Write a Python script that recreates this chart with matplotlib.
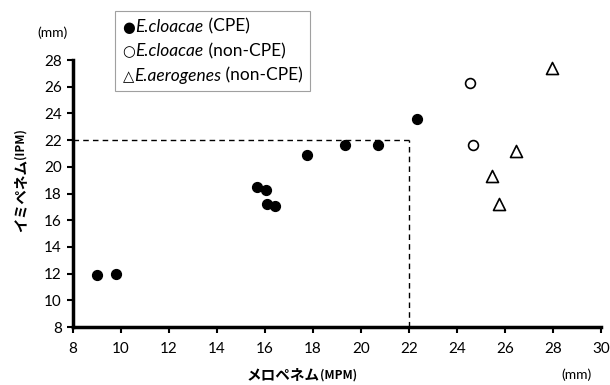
import matplotlib
matplotlib.use('Agg')
import matplotlib.pyplot as plt
from matplotlib.offsetbox import TextArea, HPacker, VPacker, AnchoredOffsetbox

plt.rcParams['font.family'] = ['Lato', 'DejaVu Sans']

# data (mm)
cpe_x = [9.0, 9.8, 15.65, 16.05, 16.1, 16.4, 17.75, 19.35, 20.7, 22.35]
cpe_y = [11.9, 12.0, 18.5, 18.3, 17.25, 17.05, 20.9, 21.65, 21.65, 23.6]
clo_x = [24.55, 24.65]
clo_y = [26.25, 21.6]
aer_x = [27.95, 26.45, 25.45, 25.75]
aer_y = [27.4, 21.2, 19.3, 17.2]
cutoff = 22
xticks = list(range(8, 31, 2))
yticks = list(range(8, 29, 2))

fig = plt.figure(figsize=(6.1, 3.85), dpi=100)
ax = fig.add_axes([0.1197, 0.1506, 0.8656, 0.6935])

ax.plot([8, cutoff], [cutoff, cutoff], color='black', lw=1, ls=(0, (4, 3)))
ax.plot([cutoff, cutoff], [8, cutoff], color='black', lw=1, ls=(0, (4, 3)))

ax.scatter(cpe_x, cpe_y, s=50, color='black', zorder=3)
ax.scatter(clo_x, clo_y, s=50, facecolor='white', edgecolor='black', lw=1.2, zorder=3)
ax.scatter(aer_x, aer_y, s=75, marker='^', facecolor='white', edgecolor='black', lw=1.2, zorder=3)

ax.set_xlim(8, 30)
ax.set_ylim(8, 28)
ax.set_xticks(xticks)
ax.set_yticks(yticks)
ax.tick_params(direction='out', length=4, width=1.5, labelsize=11, pad=4)
ax.tick_params(axis='x', pad=7)
for s in ['top', 'right']:
    ax.spines[s].set_visible(False)
for s in ['left', 'bottom']:
    ax.spines[s].set_linewidth(2.5)

jp = ['Noto Sans CJK JP', 'DejaVu Sans']
# axis titles: Japanese name + smaller abbreviation
fig.text(320 / 610, 1 - 379 / 385, 'メロペネム', family=jp, fontsize=10.5, fontweight='bold', ha='right', va='baseline')
fig.text(320 / 610, 1 - 379 / 385, '(MPM)', family=jp, fontsize=8.5, fontweight='bold', ha='left', va='baseline')
fig.text(20 / 610, 1 - 159 / 385, 'イミペネム', family=jp, fontsize=10.5, fontweight='bold', rotation=90, ha='center', va='top')
fig.text(20 / 610, 1 - 159 / 385, '(IPM)', family=jp, fontsize=8.5, fontweight='bold', rotation=90, ha='center', va='bottom')
fig.text(52 / 610, 1 - 33 / 385, '(mm)', fontsize=10, ha='center', va='center')
fig.text(576 / 610, 1 - 375 / 385, '(mm)', fontsize=10, ha='center', va='center')

# legend built from text pieces (italic species names)
rows = [('●', 'E.cloacae', ' (CPE)'),
        ('○', 'E.cloacae', ' (non-CPE)'),
        ('△', 'E.aerogenes', ' (non-CPE)')]
lines = []
for sym, name, tag in rows:
    lines.append(HPacker(children=[
        TextArea(sym, textprops=dict(family='DejaVu Sans', fontsize=10.5)),
        TextArea(name, textprops=dict(fontsize=12.5, style='italic')),
        TextArea(tag, textprops=dict(fontsize=12.5)),
    ], align='baseline', pad=0, sep=0))
box = VPacker(children=lines, align='left', pad=0, sep=6)
anch = AnchoredOffsetbox(loc='upper left', child=box, pad=0.55, borderpad=0,
                         frameon=True, bbox_to_anchor=(115 / 610, 1 - 11 / 385),
                         bbox_transform=fig.transFigure)
anch.patch.set_edgecolor('#a0a0a0')
anch.patch.set_linewidth(0.8)
anch.patch.set_boxstyle('square', pad=0)
fig.add_artist(anch)

fig.savefig('out.png', dpi=100)
